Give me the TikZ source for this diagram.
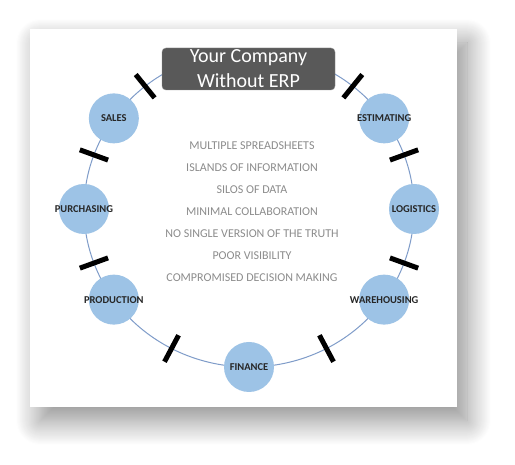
\documentclass[tikz,border=0pt]{standalone}
\usepackage{fontspec}
\setmainfont{Carlito}
\usetikzlibrary{calc,shadows.blur}
\definecolor{ringblue}{HTML}{7F9CC9}
\definecolor{deptblue}{HTML}{9DC3E6}
\definecolor{titlegray}{HTML}{595959}
\definecolor{notegray}{HTML}{8C8C8C}
\definecolor{labelgray}{HTML}{262626}
\tikzset{
  dept/.style={circle, fill=deptblue, minimum size=50pt, inner sep=0pt},
  deptname/.style={inner sep=0pt, font=\fontsize{10.5}{12}\selectfont\bfseries, text=labelgray},
  cutbar/.style={line width=5pt, black},
  note/.style={font=\fontsize{12}{14}\selectfont, text=notegray},
  titlebox/.style={rounded corners=4pt, fill=titlegray, draw=titlegray!70!white,
    minimum width=173pt, minimum height=42pt, inner ysep=0pt, align=center,
    text=white, font=\fontsize{20}{25}\selectfont},
}
\begin{document}
\begin{tikzpicture}[x=1pt,y=1pt]
    \useasboundingbox (0,0) rectangle (515,465);
    % panel with shadow
    \fill[white, blur shadow={shadow xshift=10pt, shadow yshift=-14pt,
        shadow blur radius=24pt, shadow blur steps=24, shadow opacity=45}]
        (30,58) rectangle (457,436);
    % ring
    \coordinate (c) at (249,256);
    \draw[ringblue, line width=1pt] (c) ellipse [x radius=165, y radius=158];
    \foreach \a in {20,51,129,160,200,242,298,340}
        \draw[cutbar] ($(c)+(\a:150 and 143)$) -- ($(c)+(\a:180 and 173)$);
    % departments
    \node[dept, label={[deptname]center:LOGISTICS}] (logistics) at ($(c)+(0:165 and 158)$) {};
    \node[dept, label={[deptname]center:ESTIMATING}] (estimating) at ($(c)+(35:165 and 158)$) {};
    \node[dept, label={[deptname]center:SALES}] (sales) at ($(c)+(145:165 and 158)$) {};
    \node[dept, label={[deptname]center:PURCHASING}] (purchasing) at ($(c)+(180:165 and 158)$) {};
    \node[dept, label={[deptname]center:PRODUCTION}] (production) at ($(c)+(215:165 and 158)$) {};
    \node[dept, label={[deptname]center:FINANCE}] (finance) at ($(c)+(270:165 and 158)$) {};
    \node[dept, label={[deptname]center:WAREHOUSING}] (warehousing) at ($(c)+(325:165 and 158)$) {};
    % title
    \node[titlebox] (title) at (248.5,396) {Your Company\\Without ERP};
    % problems
    \foreach \t [count=\i] in {MULTIPLE SPREADSHEETS, ISLANDS OF INFORMATION,
        SILOS OF DATA, MINIMAL COLLABORATION, NO SINGLE VERSION OF THE TRUTH,
        POOR VISIBILITY, COMPROMISED DECISION MAKING}
        \node[note] (note\i) at (252,{341.5-22*\i}) {\t};
\end{tikzpicture}
\end{document}
